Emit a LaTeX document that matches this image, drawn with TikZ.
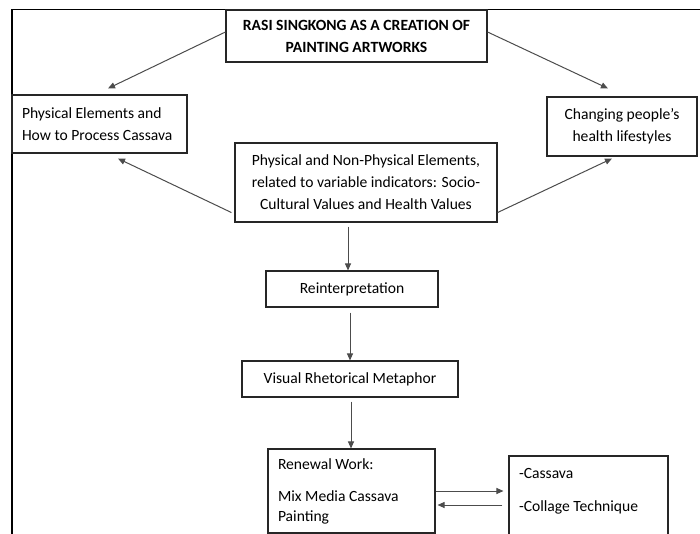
\documentclass[tikz,border=0pt]{standalone}
\usepackage{fontspec}
\setmainfont{Carlito}
\usetikzlibrary{arrows.meta}
\begin{document}
\begin{tikzpicture}[x=1pt,y=-1pt,
  box/.style={draw=black!85, line width=1.1pt, inner sep=0pt, align=center,
    font=\fontsize{15.6}{22}\selectfont},
  conn/.style={draw=black!70, line width=1pt, -{Triangle[length=7pt,width=6pt]}},
  frame/.style={draw=black, line width=1.6pt}]
\useasboundingbox (0,0) rectangle (700,534);
\clip (0,0) rectangle (700,534);
% frame
\coordinate (fbl) at (12,540);
\coordinate (ftl) at (12,9.5);
\coordinate (ftr) at (705,9.5);
\draw[frame] (fbl) -- (ftl) -- (ftr);
% boxes
\node[box, minimum width=261pt, minimum height=52pt,
  font=\fontsize{15.6}{22}\selectfont\bfseries] (title) at (356.5,36)
  {RASI SINGKONG AS A CREATION OF\\PAINTING ARTWORKS};
\node[box, text width=155pt, inner xsep=10pt, align=flush left, minimum height=58pt] (phys) at (99.5,124)
  {Physical Elements and\\How to Process Cassava};
\node[box, minimum width=150pt, minimum height=59pt] (health) at (622,126.5)
  {Changing people's\\health lifestyles};
\node[box, minimum width=262pt, minimum height=79pt] (mid) at (366,182.5)
  {Physical and Non-Physical Elements,\\related to variable indicators: Socio-\\Cultural Values and Health Values};
\node[box, minimum width=172pt, minimum height=36pt] (reint) at (352,289)
  {Reinterpretation};
\node[box, minimum width=216pt, minimum height=36pt] (visual) at (350,379)
  {Visual Rhetorical Metaphor};
\node[box, text width=147pt, inner xsep=10pt, align=flush left, minimum height=84pt,
  font=\fontsize{15.6}{20}\selectfont] (renew) at (351.5,491)
  {Renewal Work:\\[12pt]Mix Media Cassava\\Painting};
\node[box, text width=139pt, inner xsep=10pt, align=flush left, minimum height=100pt,
  font=\fontsize{15.6}{33}\selectfont] (media) at (588.5,506)
  {-Cassava\\-Collage Technique\\~};
% connectors
\draw[conn] ([yshift=4pt]title.west) -- ([xshift=8.5pt,yshift=6pt]phys.north);
\draw[conn] ([yshift=4pt]title.east) -- ([xshift=-14pt,yshift=8pt]health.north);
\draw[conn] ([xshift=-3pt,yshift=10pt]mid.south west) -- ([xshift=18.5pt,yshift=-5pt]phys.south);
\draw[conn] ([yshift=10pt]mid.south east) -- ([xshift=-10pt,yshift=-2pt]health.south);
\draw[conn] ([xshift=-18pt,yshift=-4pt]mid.south) -- ([xshift=-4pt]reint.north);
\draw[conn] ([xshift=-2pt,yshift=-5pt]reint.south) -- (visual.north);
\draw[conn] ([xshift=1pt,yshift=-4pt]visual.south) -- ([xshift=-0.5pt]renew.north);
\draw[conn] (renew.east) -- ([xshift=-5pt]renew.east -| media.west);
\draw[conn] ([xshift=-6pt,yshift=1pt]media.west) -- ([xshift=2pt,yshift=1pt]media.west -| renew.east);
\end{tikzpicture}
\end{document}
